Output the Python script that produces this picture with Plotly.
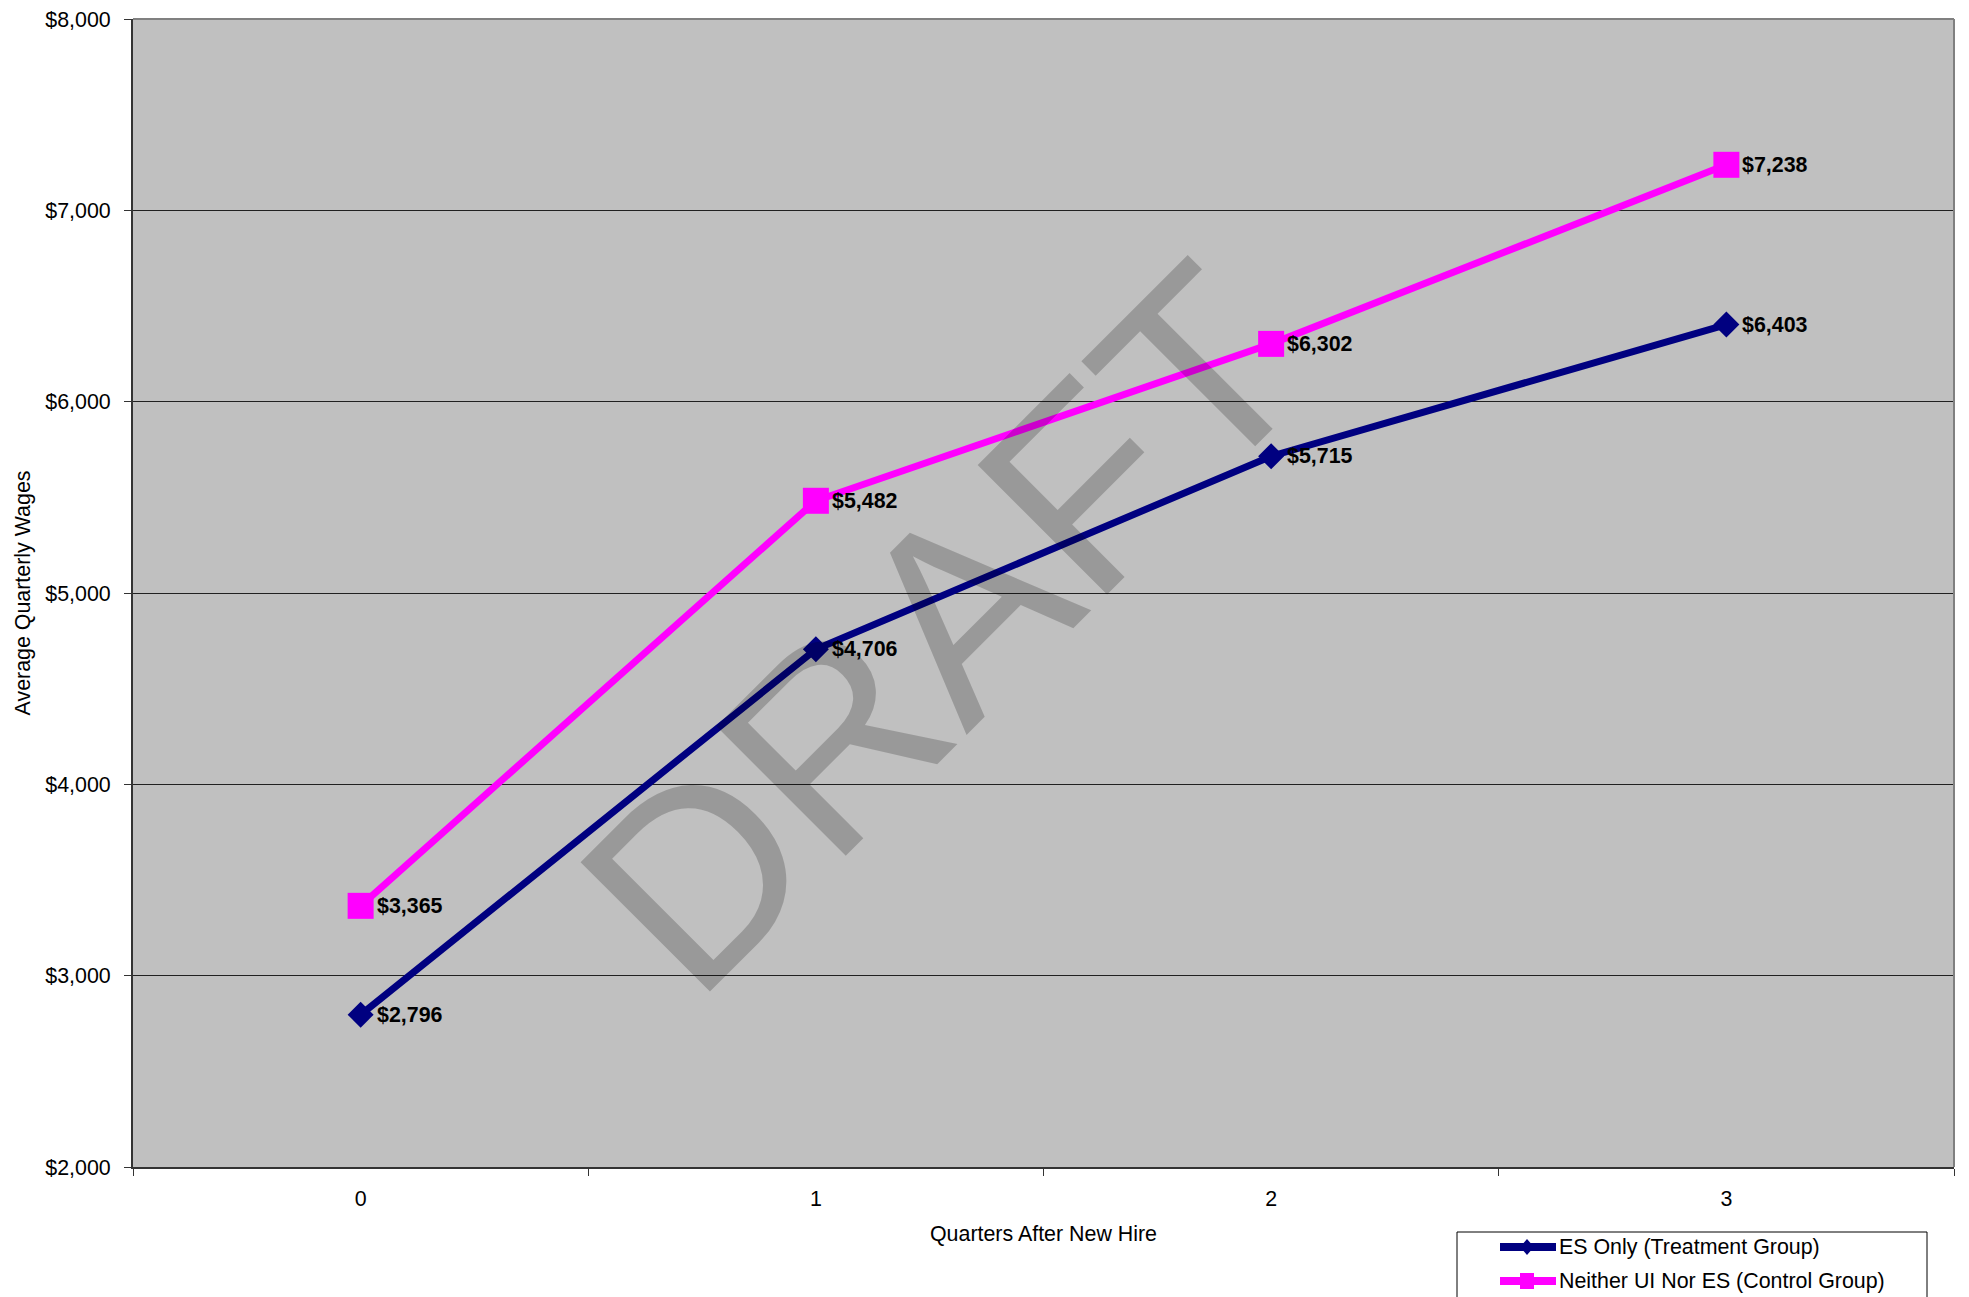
import plotly.graph_objects as go

# Average quarterly wages by quarter after a new hire
quarters = [0, 1, 2, 3]
es_only = [2796, 4706, 5715, 6403]          # ES Only (Treatment Group)
neither = [3365, 5482, 6302, 7238]          # Neither UI Nor ES (Control Group)
series_names = ["ES Only (Treatment Group)", "Neither UI Nor ES (Control Group)"]
y_ticks = [2000, 3000, 4000, 5000, 6000, 7000, 8000]

NAVY = "#000080"
MAGENTA = "#FF00FF"
FONT = "Liberation Sans, Arial, sans-serif"
FS = 21.4

W, H = 1969, 1297
L, R, T, B = 133, 15, 19, 130
PW, PH = W - L - R, H - T - B


def px(xp):
    """Pixel x -> paper x."""
    return (xp - L) / PW


def py(yp):
    """Pixel y -> paper y."""
    return (H - B - yp) / PH


fig = go.Figure()
fig.add_trace(go.Scatter(
    x=quarters, y=es_only, mode="lines+markers", name=series_names[0],
    line=dict(color=NAVY, width=7),
    marker=dict(symbol="diamond", size=20, color=NAVY),
    showlegend=False, cliponaxis=False,
))
fig.add_trace(go.Scatter(
    x=quarters, y=neither, mode="lines+markers", name=series_names[1],
    line=dict(color=MAGENTA, width=7),
    marker=dict(symbol="square", size=26, color=MAGENTA),
    showlegend=False, cliponaxis=False,
))

annotations = []
# value labels next to each point
for ys in (es_only, neither):
    for q, v in zip(quarters, ys):
        annotations.append(dict(
            x=q, y=v, xref="x", yref="y", text=f"<b>${v:,}</b>",
            showarrow=False, xanchor="left", yanchor="middle", xshift=14,
            font=dict(family=FONT, size=FS, color="black"),
        ))

# watermark
annotations.append(dict(
    x=px(942), y=py(628), xref="paper", yref="paper", text="DRAFT",
    showarrow=False, textangle=-45, xanchor="center", yanchor="middle",
    font=dict(family=FONT, size=266, color="rgba(0,0,0,0.2)"),
))

# legend text
legend_rows = [1247, 1281]
for name, yy in zip(series_names, legend_rows):
    annotations.append(dict(
        x=px(1557), y=py(yy), xref="paper", yref="paper", text=name,
        showarrow=False, xanchor="left", yanchor="middle",
        font=dict(family=FONT, size=FS, color="black"),
    ))

shapes = [
    # plot area border (top and right)
    dict(type="line", xref="paper", yref="paper", x0=0, x1=1, y0=1, y1=1,
         line=dict(color="#808080", width=2)),
    dict(type="line", xref="paper", yref="paper", x0=1, x1=1, y0=0, y1=1,
         line=dict(color="#808080", width=2)),
    # legend box
    dict(type="rect", xref="paper", yref="paper",
         x0=px(1457), x1=px(1927), y0=py(1310), y1=py(1232),
         line=dict(color="black", width=1), fillcolor="white"),
]
# legend symbols
for color, yy in zip((NAVY, MAGENTA), legend_rows):
    shapes.append(dict(type="line", xref="paper", yref="paper",
                       x0=px(1500), x1=px(1556), y0=py(yy), y1=py(yy),
                       line=dict(color=color, width=8)))
cx = 1527
shapes.append(dict(
    type="path", xref="paper", yref="paper",
    path=(f"M {px(cx - 7)},{py(legend_rows[0])} L {px(cx)},{py(legend_rows[0] - 8)} "
          f"L {px(cx + 7)},{py(legend_rows[0])} L {px(cx)},{py(legend_rows[0] + 8)} Z"),
    fillcolor=NAVY, line=dict(width=0),
))
shapes.append(dict(
    type="rect", xref="paper", yref="paper",
    x0=px(cx - 7), x1=px(cx + 7), y0=py(legend_rows[1] + 8), y1=py(legend_rows[1] - 8),
    fillcolor=MAGENTA, line=dict(width=0),
))

fig.update_layout(
    width=W, height=H,
    margin=dict(l=L, r=R, t=T, b=B, autoexpand=False),
    paper_bgcolor="white", plot_bgcolor="#C0C0C0",
    font=dict(family=FONT, size=FS, color="black"),
    annotations=annotations, shapes=shapes,
    showlegend=False,
)
fig.update_xaxes(
    range=[-0.5, 3.5], tickvals=quarters, ticktext=[str(q) for q in quarters],
    ticks="", showgrid=False, zeroline=False,
    showline=True, linecolor="#333333", linewidth=2,
    minor=dict(tickvals=[-0.5, 0.5, 1.5, 2.5, 3.5], ticks="outside", ticklen=7,
               tickcolor="#333333", tickwidth=1, showgrid=False),
    ticklabelstandoff=11,
    title=dict(text="Quarters After New Hire", standoff=16,
               font=dict(family=FONT, size=FS)),
    tickfont=dict(family=FONT, size=FS),
)
fig.update_yaxes(
    range=[2000, 8000], tickvals=y_ticks, ticktext=[f"${v:,}" for v in y_ticks],
    ticks="outside", ticklen=7, tickcolor="#333333", tickwidth=1,
    showgrid=True, gridcolor="#202020", gridwidth=1, zeroline=False,
    showline=True, linecolor="#333333", linewidth=2,
    ticklabelstandoff=9,
    title=dict(text="Average Quarterly Wages", standoff=9,
               font=dict(family=FONT, size=FS)),
    tickfont=dict(family=FONT, size=FS),
)

fig.write_html("out.html")
